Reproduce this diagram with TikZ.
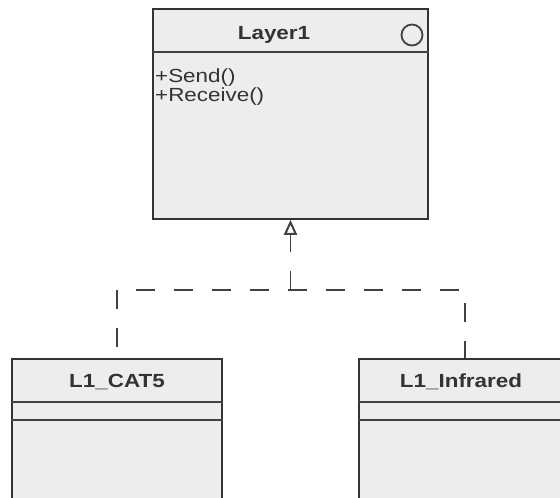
\documentclass[tikz,border=0pt]{standalone}
\usepackage{fontspec}
\newfontfamily\umlfont[FakeStretch=1.18]{Liberation Sans}
\usetikzlibrary{positioning,arrows.meta}

\begin{document}
\begin{tikzpicture}[
        x=1pt, y=-1pt,
        every node/.style={font=\umlfont\fontsize{19}{21}\selectfont, text=black!80, inner sep=0pt},
        classbox/.style={draw=black!80, line width=1.6pt, fill=black!7},
        classname/.style={font=\umlfont\bfseries\fontsize{19}{21}\selectfont, anchor=base},
        opname/.style={anchor=base west},
        divider/.style={draw=black!75, line width=1.2pt},
        realize/.style={draw=black!75, line width=1.3pt, dash pattern=on 19pt off 19pt}
    ]
    \clip (0,0) rectangle (560,498);

    % classes
    \node[classbox, minimum width=275pt, minimum height=210pt] (layer1) at (290.5,114) {};
    \node[classbox, minimum width=210pt, minimum height=170pt] (cat5) at (117,444) {};
    \node[classbox, minimum width=212pt, minimum height=170pt] (infra) at (465,444) {};

    % compartments
    \draw[divider] (layer1.west |- 0,52) -- (layer1.east |- 0,52);
    \draw[divider] (cat5.west |- 0,402) -- (cat5.east |- 0,402);
    \draw[divider] (cat5.west |- 0,420) -- (cat5.east |- 0,420);
    \draw[divider] (infra.west |- 0,402) -- (infra.east |- 0,402);
    \draw[divider] (infra.west |- 0,420) -- (infra.east |- 0,420);

    % texts
    \node[classname] (layer1title) at (274,39) {Layer1};
    \node[draw=black!75, line width=1.8pt, circle, minimum size=21pt] (icon) at (412,35) {};
    \node[opname] (send) at (155,82) {+Send()};
    \node[opname] (receive) at (155,101) {+Receive()};
    \node[classname] (cat5title) at (cat5.north |- 0,387) {L1\_CAT5};
    \node[classname] (infratitle) at (461,387) {L1\_Infrared};

    % realization
    \coordinate (junction) at (layer1.south |- 0,290);
    \draw[realize, -{Triangle[open, length=15pt, width=13pt, line width=2pt]}] (junction) -- (layer1.south);
    \draw[realize, dash phase=27pt] (cat5.north) |- (junction) -| (infra.north);
\end{tikzpicture}
\end{document}
